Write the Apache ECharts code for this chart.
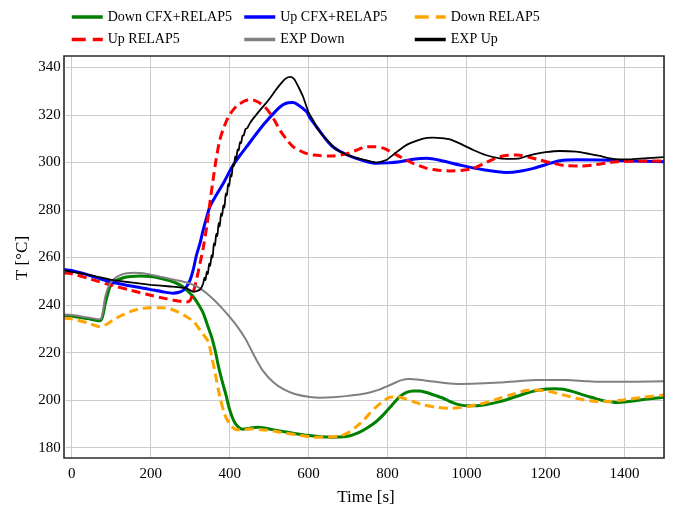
<!DOCTYPE html>
<html>
<head>
<meta charset="utf-8">
<script src="https://cdn.jsdelivr.net/npm/echarts@6/dist/echarts.min.js"></script>
<style>
  html, body { margin: 0; padding: 0; background: #ffffff; }
  #chart { width: 673px; height: 508px; }
</style>
</head>
<body>
<div id="chart"></div>
<script>
// Time [s] / temperature [°C] pairs for each curve
const downCfxRelap = [
  [-19.5, 235.5], [0, 235.3], [40, 234.3], [72, 233.4], [78, 235], [85, 240.8], [92, 245], [97, 247.7],
  [110, 250], [131, 251.5], [150, 252], [173, 252.2], [200, 252], [224, 251.3], [250, 250.2], [274, 248.5],
  [290, 246.5], [308, 243.5], [320, 240.5], [333, 236.6], [345, 231], [354, 226.7], [363, 221.1],
  [372, 214], [381, 208], [391, 202], [400, 196], [410, 191.5], [420, 189], [432, 187.8], [451, 188.2],
  [470, 188.6], [485, 188.4], [510, 187.6], [536, 186.8], [565, 186], [595, 185.2], [630, 184.6],
  [662, 184.4], [690, 184.6], [705, 185], [725, 186.2], [747, 188.2], [770, 190.8], [789, 193.8],
  [810, 197.7], [831, 201.5], [848, 203.3], [865, 203.9], [880, 203.9], [899, 203.2], [920, 202],
  [941, 200.8], [960, 199.3], [983, 198], [1005, 197.6], [1025, 197.6], [1050, 198.2], [1084, 199.4],
  [1110, 200.7], [1143, 202.5], [1170, 203.8], [1203, 204.7], [1225, 204.8], [1245, 204.6], [1270, 203.6],
  [1295, 202.2], [1320, 201], [1346, 199.8], [1365, 199.3], [1380, 199], [1410, 199.4], [1439, 200.1],
  [1470, 200.7], [1500, 201.2]
];

const upCfxRelap = [
  [-19.5, 255], [0, 254.5], [50, 252.2], [97, 249.8], [150, 248], [198, 246.6], [230, 245.6], [257, 245],
  [274, 245.5], [283, 246.3], [292, 248], [300, 250.6], [308, 255], [316, 261], [325, 266], [333, 271.6],
  [342, 277], [350, 281.4], [367, 286.5], [384, 291.2], [409, 298.9], [443, 306.6], [485, 315.7],
  [519, 322], [535, 324.2], [548, 325.1], [560, 325.2], [570, 324.6], [595, 321.3], [603, 318.8],
  [620, 315], [640, 310.5], [662, 306.5], [696, 303.3], [738, 300.8], [772, 299.6], [800, 299.8],
  [831, 300.3], [865, 301.3], [899, 301.7], [940, 300.6], [983, 298.9], [1040, 297], [1101, 295.8],
  [1135, 296.3], [1169, 297.5], [1200, 299], [1236, 300.7], [1280, 301.1], [1338, 301], [1422, 300.6],
  [1500, 300.3]
];

const downRelap = [
  [-19.5, 234.5], [0, 234.2], [40, 232.5], [72, 230.9], [85, 231.6], [105, 233.7], [125, 235.5],
  [148, 237.2], [170, 238.3], [198, 238.9], [225, 238.9], [249, 238.4], [270, 237], [291, 235.1],
  [310, 232.8], [325, 229.5], [336, 227], [346, 224.5], [355, 218], [363, 211.6], [375, 201.6],
  [388, 193.8], [400, 190], [410, 188.2], [419, 187.5], [435, 187.6], [451, 187.9], [480, 187.6],
  [510, 187], [536, 186.3], [570, 185.5], [600, 184.7], [620, 184.4], [645, 184.5], [671, 184.7],
  [690, 185.5], [705, 186.8], [720, 188.8], [738, 191.4], [755, 194.5], [772, 197.3], [790, 199.6],
  [806, 201.2], [825, 201.3], [840, 200.8], [865, 199.4], [890, 198], [925, 197], [958, 196.6],
  [990, 197], [1025, 198], [1055, 199.3], [1084, 200.8], [1120, 202.6], [1160, 204.3], [1185, 204.2],
  [1211, 203.6], [1245, 202.2], [1278, 200.8], [1310, 199.8], [1346, 199.4], [1370, 199.6],
  [1397, 200.1], [1447, 201.2], [1500, 202.2]
];

const upRelap = [
  [-19.5, 253.5], [0, 253.2], [50, 250.8], [97, 248.5], [150, 246.2], [198, 244.2], [235, 242.8],
  [266, 241.8], [290, 241.3], [300, 242], [308, 245.5], [316, 250.6], [325, 257.6], [333, 264],
  [342, 273], [350, 283], [358, 292.6], [366, 301.5], [375, 309.4], [386, 315], [397, 319.2],
  [410, 322.3], [422, 324.2], [440, 326], [456, 326.3], [467, 325.8], [477, 324.9], [490, 323.2],
  [502, 320.7], [515, 317.3], [527, 313.6], [545, 309.5], [561, 306.6], [590, 304], [612, 303.1],
  [662, 302.7], [695, 303.6], [722, 305.2], [747, 306.6], [764, 306.6], [789, 306], [810, 304.3],
  [831, 302.4], [865, 299.6], [899, 297.5], [930, 296.7], [958, 296.4], [990, 296.7], [1017, 297.5],
  [1050, 300], [1084, 302.4], [1127, 303.1], [1155, 302.3], [1186, 301], [1220, 299.6], [1253, 298.6],
  [1290, 298.5], [1320, 298.9], [1350, 299.6], [1380, 300.3], [1440, 300.5], [1500, 300.6]
];

const expDown = [
  [-19.5, 236], [0, 235.8], [40, 234.8], [72, 234], [78, 236.5], [85, 243.5], [95, 248.5],
  [105, 250.6], [120, 252.4], [139, 253.4], [160, 253.6], [181, 253.4], [200, 252.8], [224, 251.9],
  [250, 251], [283, 249.8], [300, 249], [320, 247.5], [340, 245.2], [360, 242.2], [380, 238.8],
  [400, 235], [420, 230.8], [440, 225.8], [451, 222.3], [465, 217.8], [485, 212.2], [510, 207.6],
  [536, 204.6], [565, 202.6], [603, 201.3], [630, 201], [662, 201.2], [700, 201.8], [747, 202.9],
  [775, 204.2], [797, 205.7], [815, 207], [831, 208.2], [845, 208.8], [856, 208.9], [880, 208.6],
  [915, 207.8], [975, 206.8], [1030, 207], [1084, 207.4], [1130, 208], [1177, 208.5], [1253, 208.5],
  [1300, 208], [1338, 207.7], [1400, 207.7], [1500, 207.9]
];

const expUp = [
  [-19.5, 254.6], [0, 254], [50, 252.5], [100, 250.6], [150, 249.5], [200, 248.5], [250, 247.8],
  [290, 247.1], [308, 245.6], [318, 246], [325, 246.5], [333, 249], [336, 251.5], [339, 250.5],
  [342, 254], [345, 253], [348, 257.5], [351, 256.5], [354, 261], [357, 260], [360, 266], [363, 265],
  [366, 270], [369, 269], [372, 274.5], [375, 273], [378, 278.5], [381, 277.5], [384, 282], [387, 281],
  [390, 287], [393, 286], [396, 291], [399, 290], [402, 295], [405, 294], [408, 299], [411, 298.5],
  [414, 302.5], [417, 301.5], [420, 305.5], [423, 305], [426, 308.5], [429, 308], [432, 311],
  [436, 311.5], [440, 314], [445, 314.5], [451, 316.4], [460, 318.5], [477, 322], [490, 324.5],
  [502, 327], [515, 330], [527, 332.6], [540, 335], [548, 335.8], [556, 336], [565, 334.7], [575, 331.5],
  [586, 327.6], [600, 321], [612, 317.5], [625, 313.5], [646, 309.5], [670, 305.5], [696, 303.2],
  [720, 301.9], [747, 300.8], [772, 299.9], [797, 301], [820, 304], [840, 306.5], [856, 308],
  [880, 309.5], [900, 310.3], [915, 310.4], [935, 310.2], [958, 309.7], [985, 307.8], [1017, 305.2],
  [1050, 303], [1084, 301.7], [1110, 301.5], [1135, 301.7], [1150, 302.5], [1169, 303.4],
  [1200, 304.3], [1236, 304.8], [1278, 304.5], [1310, 303.6], [1338, 302.7], [1360, 301.8],
  [1388, 301.3], [1420, 301.4], [1460, 301.8], [1500, 302.2]
];

const seriesNames = ['Down CFX+RELAP5', 'Up CFX+RELAP5', 'Down RELAP5', 'Up RELAP5', 'EXP Down', 'EXP Up'];
const xTicks = { min: 0, max: 1500, step: 200 };
const yTicks = { min: 180, max: 340, step: 20 };
const xTitle = 'Time [s]';
const yTitle = 'T [°C]';

const FONT = 'Liberation Serif';
const GRID_COLOR = '#cccccc';
const DASH = [9, 5];
const LEGEND_DASH = [14, 7];

const chart = echarts.init(document.getElementById('chart'), null, { renderer: 'canvas' });

// one legend entry per slot, laid out as a 3 x 2 table
const legendSlots = [[70, 10], [242.5, 10], [413, 10], [70, 32.5], [242.5, 32.5], [413, 32.5]];
const legendDashed = [false, false, true, true, false, false];
const legends = seriesNames.map((name, i) => ({
  data: [name],
  left: legendSlots[i][0],
  top: legendSlots[i][1],
  padding: 0,
  orient: 'horizontal',
  itemWidth: 31,
  itemHeight: 16,
  itemGap: 5,
  selectedMode: false,
  itemStyle: { opacity: 0 },
  lineStyle: { width: 3.5, type: legendDashed[i] ? LEGEND_DASH : 'solid' },
  textStyle: { fontFamily: FONT, fontSize: 14, color: '#000' }
}));

function lineSeries(name, data, color, width, dash, smooth) {
  return {
    name: name,
    type: 'line',
    xAxisIndex: 0,
    yAxisIndex: 0,
    data: data,
    showSymbol: false,
    symbol: 'none',
    smooth: smooth === undefined ? 0.3 : smooth,
    animation: false,
    lineStyle: { color: color, width: width, type: dash || 'solid', cap: 'butt' },
    itemStyle: { color: color }
  };
}

const option = {
  backgroundColor: '#ffffff',
  animation: false,
  legend: legends,
  grid: [
    // data area (covers the full frame)
    { left: 64, right: 9, top: 56, bottom: 50, containLabel: false },
    // vertical grid lines and time labels
    { left: 71.7, right: 9, top: 56, bottom: 50, containLabel: false },
    // horizontal grid lines and temperature labels
    { left: 71.7, right: 9, top: 67.3, bottom: 60.3, containLabel: false }
  ],
  xAxis: [
    { gridIndex: 0, type: 'value', min: -19.5, max: 1500, show: false },
    {
      gridIndex: 1, type: 'value', min: xTicks.min, max: xTicks.max, interval: xTicks.step,
      axisLine: { show: false },
      axisTick: { show: false },
      axisLabel: {
        fontFamily: FONT, fontSize: 15, color: '#000', margin: 9,
        formatter: v => (v % xTicks.step === 0 ? String(v) : '')
      },
      splitLine: { show: true, lineStyle: { color: GRID_COLOR, width: 1 } }
    },
    { gridIndex: 2, type: 'value', min: 0, max: 1500, show: false }
  ],
  yAxis: [
    { gridIndex: 0, type: 'value', min: 175.67, max: 344.75, show: false },
    { gridIndex: 1, type: 'value', min: 0, max: 1, show: false },
    {
      gridIndex: 2, type: 'value', min: yTicks.min, max: yTicks.max, interval: yTicks.step,
      axisLine: { show: false },
      axisTick: { show: true, length: 6, lineStyle: { color: GRID_COLOR, width: 1 } },
      axisLabel: { fontFamily: FONT, fontSize: 15, color: '#000', margin: 11 },
      splitLine: { show: true, lineStyle: { color: GRID_COLOR, width: 1 } }
    }
  ],
  graphic: [
    {
      type: 'rect',
      z: 100,
      silent: true,
      shape: { x: 64, y: 56, width: 600, height: 402 },
      style: { fill: 'none', stroke: '#2b2b2b', lineWidth: 1.6 }
    },
    {
      type: 'text',
      silent: true,
      x: 366, y: 498,
      style: {
        text: xTitle, fontFamily: FONT, fontSize: 17, fill: '#000',
        align: 'center', verticalAlign: 'middle'
      }
    },
    {
      type: 'text',
      silent: true,
      x: 23, y: 258,
      rotation: Math.PI / 2,
      style: {
        text: yTitle, fontFamily: FONT, fontSize: 17, fill: '#000',
        align: 'center', verticalAlign: 'middle'
      }
    }
  ],
  series: [
    lineSeries(seriesNames[0], downCfxRelap, '#008000', 3),
    lineSeries(seriesNames[1], upCfxRelap, '#0000ff', 3),
    lineSeries(seriesNames[2], downRelap, '#ffa500', 3, DASH),
    lineSeries(seriesNames[3], upRelap, '#ff0000', 3, DASH),
    lineSeries(seriesNames[4], expDown, '#808080', 2),
    lineSeries(seriesNames[5], expUp, '#000000', 1.8, null, 0.15)
  ]
};

chart.setOption(option);
</script>
</body>
</html>
